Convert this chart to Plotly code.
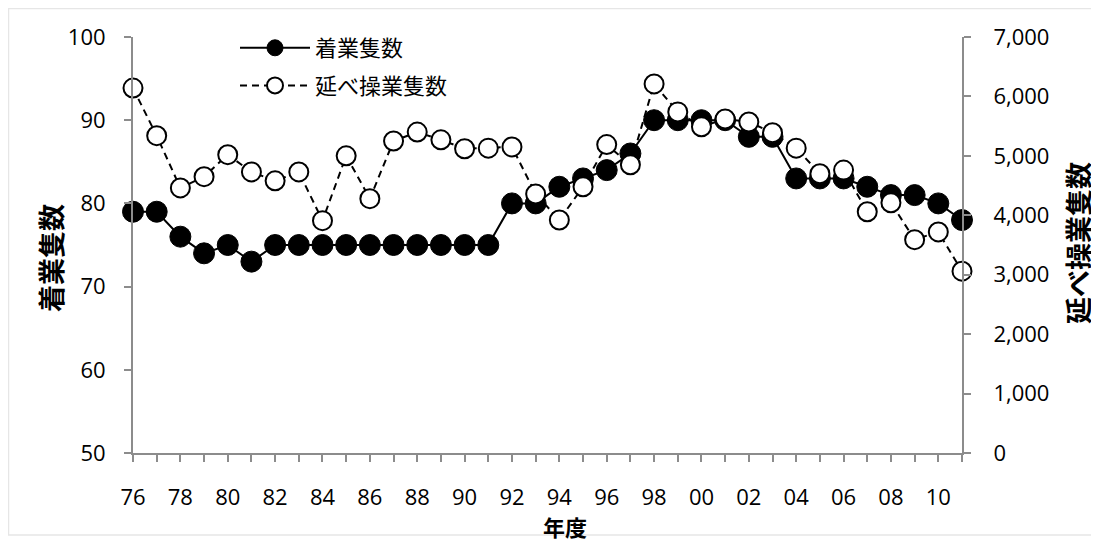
import plotly.graph_objects as go

years = list(range(1976, 2012))
tick_vals = years
tick_text = [("%02d" % (y % 100)) if (y - 1976) % 2 == 0 else "" for y in years]

vessels = [79, 79, 76, 74, 75, 73, 75, 75, 75, 75, 75, 75, 75, 75, 75, 75,
           80, 80, 82, 83, 84, 86, 90, 90, 90, 90, 88, 88, 83, 83, 83, 82,
           81, 81, 80, 78]
operations = [6140, 5340, 4460, 4650, 5020, 4730, 4580, 4730, 3910, 5000,
              4280, 5250, 5400, 5270, 5120, 5130, 5150, 4360, 3920, 4480,
              5190, 4850, 6210, 5740, 5490, 5620, 5570, 5390, 5130, 4700,
              4760, 4060, 4210, 3590, 3720, 3060]

left_ticks = [50, 60, 70, 80, 90, 100]
right_ticks = [0, 1000, 2000, 3000, 4000, 5000, 6000, 7000]
right_text = ["{:,}".format(v) for v in right_ticks]

name_a = "着業隻数"
name_b = "延べ操業隻数"
title_x = "年度"

font_num = "Open Sans, Noto Sans, sans-serif"
font_cjk = "Noto Sans CJK JP, sans-serif"
axis_col = "#8c8c8c"

# page body has an 8px margin; plot area lands at x 133..962, y 37..453
PW, PH = 829, 416

fig = go.Figure()
fig.add_trace(go.Scatter(
    x=years, y=vessels, name=name_a, mode="lines+markers",
    line=dict(color="black", width=2),
    marker=dict(size=21, color="black", line=dict(color="black", width=1)),
    cliponaxis=False, legendgroup="a", yaxis="y"))
fig.add_trace(go.Scatter(
    x=years, y=operations, name=name_b, mode="lines+markers",
    line=dict(color="black", width=2, dash="7px,5px"),
    marker=dict(size=19, color="white", line=dict(color="black", width=2)),
    cliponaxis=False, legendgroup="b", yaxis="y2"))

common = dict(showline=True, linecolor=axis_col, linewidth=2,
              ticks="outside", tickcolor=axis_col, ticklen=7, tickwidth=1.5,
              showgrid=False, zeroline=False, automargin=False,
              tickfont=dict(family=font_num, size=22, color="black"))

fig.update_layout(
    width=1091, height=534,
    margin=dict(l=125, r=137, t=29, b=89),
    paper_bgcolor="white", plot_bgcolor="white",
    showlegend=True,
    legend=dict(x=(235 - 133) / PW, y=(453 - 27) / PH, xanchor="left",
                yanchor="top",
                font=dict(family=font_cjk, size=22, color="black"),
                bgcolor="rgba(0,0,0,0)", itemwidth=70,
                tracegroupgap=6, traceorder="grouped"),
    xaxis=dict(range=[1976, 2011], tickmode="array", tickvals=tick_vals,
               ticktext=tick_text, ticklabelstandoff=17, **common),
    yaxis=dict(range=[50, 100], tickmode="array", tickvals=left_ticks,
               ticklabelstandoff=14, **common),
    yaxis2=dict(range=[0, 7000], tickmode="array", tickvals=right_ticks,
                ticktext=right_text, overlaying="y", side="right",
                ticklabelstandoff=18, **common),
)

fig.add_annotation(text="<b>" + title_x + "</b>", xref="paper", yref="paper",
                   x=(565 - 133) / PW, y=(453 - 526) / PH,
                   xanchor="center", yanchor="middle", showarrow=False,
                   font=dict(family=font_cjk, size=22, color="black"))
fig.add_annotation(text="<b>" + name_a + "</b>", xref="paper", yref="paper",
                   x=(50 - 133) / PW, y=(453 - 258) / PH, textangle=-90,
                   xanchor="center", yanchor="middle", showarrow=False,
                   font=dict(family=font_cjk, size=27, color="black"))
fig.add_annotation(text="<b>" + name_b + "</b>", xref="paper", yref="paper",
                   x=(1077 - 133) / PW, y=(453 - 243) / PH, textangle=-90,
                   xanchor="center", yanchor="middle", showarrow=False,
                   font=dict(family=font_cjk, size=27, color="black"))

fig.add_shape(type="rect", xref="paper", yref="paper",
              x0=(8.5 - 133) / PW, x1=(1092 - 133) / PW,
              y0=(453 - 535) / PH, y1=(453 - 8.5) / PH,
              line=dict(color="#e6e6e6", width=1.5), layer="below")

fig.write_html("out.html")
